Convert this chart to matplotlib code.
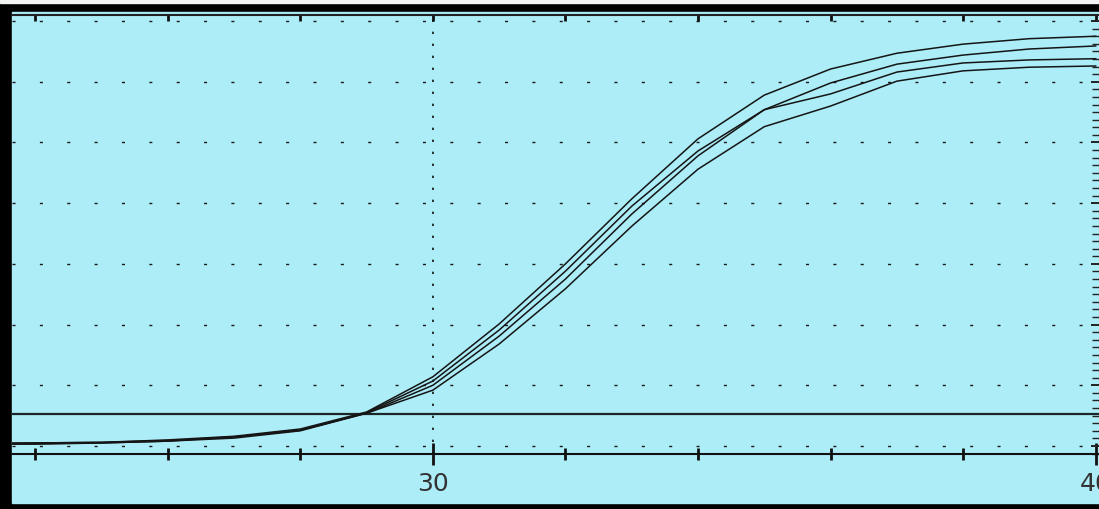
import matplotlib.pyplot as plt
from matplotlib.patches import Rectangle
from matplotlib.ticker import MultipleLocator, NullFormatter

# amplification curves, one value per cycle
cycles = list(range(23, 41))
curve_a = [0.04, 0.05, 0.06, 0.10, 0.16, 0.28, 0.56, 1.14, 2.01, 3.00, 4.07, 5.06, 5.78, 6.21, 6.47, 6.62, 6.71, 6.75]
curve_b = [0.04, 0.05, 0.06, 0.09, 0.15, 0.26, 0.55, 1.07, 1.91, 2.88, 3.95, 4.86, 5.54, 5.98, 6.29, 6.44, 6.54, 6.59]
curve_c = [0.03, 0.04, 0.05, 0.08, 0.15, 0.26, 0.54, 1.00, 1.81, 2.75, 3.82, 4.78, 5.54, 5.80, 6.16, 6.31, 6.36, 6.38]
curve_d = [0.03, 0.03, 0.05, 0.08, 0.13, 0.25, 0.54, 0.92, 1.68, 2.59, 3.62, 4.56, 5.26, 5.60, 6.01, 6.18, 6.24, 6.26]
threshold = 0.53

major_ticks = [30, 40]
minor_ticks = [24, 26, 28, 32, 34, 36, 38]
tick_labels = ["30", "40"]

W, H = 1099, 510
bg = "#adedf8"
fig = plt.figure(figsize=(W / 100, H / 100), dpi=100)
fig.patch.set_facecolor("black")
fig.patches.append(Rectangle((12 / W, 6 / H), 1, (H - 13 - 6) / H,
                             transform=fig.transFigure, color=bg, zorder=-10))
fig.patches.append(Rectangle((0, (H - 4) / H), 1, 4 / H,
                             transform=fig.transFigure, color="#f4f4f4", zorder=-10))

ax = fig.add_axes([12 / W, 55 / H, 1 - 12 / W, 439 / H])
ax.set_facecolor(bg)

for c in [curve_a, curve_b, curve_c, curve_d]:
    ax.plot(cycles, c, color="#151515", lw=1.1, zorder=3)

ax.axhline(threshold, color="#1c2626", lw=1.6, zorder=2)
ax.axvline(30, color="#111", lw=1.2, ls=(0, (1.4, 5.8)), zorder=1)

ax.set_xlim(23.65, 40.05)
ax.set_ylim(-0.132, 7.1)

# x axis ticks
ax.set_xticks(major_ticks, labels=tick_labels)
ax.set_xticks(minor_ticks, minor=True)
ax.tick_params(axis="x", which="major", direction="inout", length=16, width=2,
               color="#111", labelsize=18, labelcolor="#333", pad=4)
ax.tick_params(axis="x", which="minor", direction="inout", length=8, width=2, color="#111")
for lab in ax.get_xticklabels():
    lab.set_fontfamily("DejaVu Sans")

top = ax.secondary_xaxis("top")
top.set_xticks(minor_ticks + major_ticks)
top.tick_params(direction="in", length=4, width=2, color="#111", labeltop=False)
top.xaxis.set_major_formatter(NullFormatter())
top.spines["top"].set_visible(False)

# y axis: ticks on right only, no labels
ax.yaxis.set_major_locator(MultipleLocator(1))
ax.yaxis.set_minor_locator(MultipleLocator(1 / 8))
ax.yaxis.set_ticks_position("right")
ax.tick_params(axis="y", which="both", direction="in", labelright=False, labelleft=False,
               color="#222")
ax.tick_params(axis="y", which="major", length=6, width=1.4)
ax.tick_params(axis="y", which="minor", length=5, width=1.0)

ax.yaxis.grid(True, which="major", color="#1a1a1a", lw=1.0, ls=(0, (2.2, 17.5)))
ax.set_axisbelow(True)

for s in ["left", "right"]:
    ax.spines[s].set_visible(False)
ax.spines["top"].set_linewidth(1.5)
ax.spines["top"].set_color("#222")
ax.spines["bottom"].set_linewidth(1.5)
ax.spines["bottom"].set_color("#111")

plt.savefig("out.png", dpi=100, facecolor=fig.get_facecolor())
